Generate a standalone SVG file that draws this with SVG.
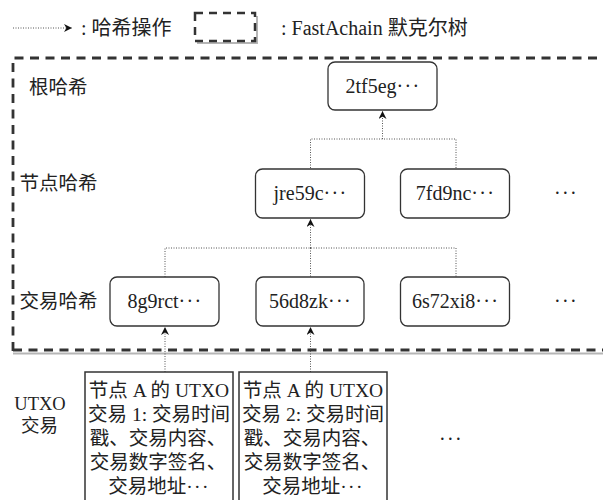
<svg xmlns="http://www.w3.org/2000/svg" width="603" height="500" viewBox="0 0 603 500">
<defs>
<style>
.t{font-family:"Liberation Serif","Noto Sans CJK SC",serif;fill:#222;}
.s18{font-size:18.5px;}
.s19{font-size:19.5px;}
.s20{font-size:20px;}
.m{text-anchor:middle;}
.el{letter-spacing:1.3px;}
.node rect{fill:#fff;stroke:#333;stroke-width:1.3;}
.utxo rect{fill:#fff;stroke:#333;stroke-width:1.5;}
.dot{fill:none;stroke:#555;stroke-width:1;stroke-dasharray:1 1.5;}
.dash{fill:none;stroke:#333;stroke-width:2.8;stroke-dasharray:9 6.5;}
.shadow{fill:none;stroke:#b5b5b5;stroke-width:2;}
</style>
<marker id="ah" markerUnits="userSpaceOnUse" viewBox="0 0 10 10" markerWidth="8" markerHeight="8" refX="10" refY="5" orient="auto">
<path d="M0,0 L10,5 L0,10 L3,5 z" fill="#111"/>
</marker>
</defs>
<rect width="603" height="500" fill="#fff"/>

<g id="legend">
<path class="dot" d="M13,28 H72" marker-end="url(#ah)"/>
<text class="t s20" x="81" y="35">: 哈希操作</text>
<path class="shadow" d="M197,43 H257 V16"/>
<rect x="195" y="13" width="60" height="28" class="dash" style="stroke-width:2.5;stroke-dasharray:8 6"/>
<text class="t s20" x="281" y="35">: FastAchain 默克尔树</text>
</g>

<g id="merkle-box">
<path class="shadow" d="M13,353.5 H603"/>
<path class="dash" d="M13,351 V58 H603"/>
<path class="dash" d="M13,350 H603"/>
</g>

<g id="level-labels">
<text class="t s19" x="29" y="94">根哈希</text>
<text class="t s19" x="19.5" y="190">节点哈希</text>
<text class="t s19" x="19.5" y="308">交易哈希</text>
<text class="t s18 m" x="40" y="410">UTXO</text>
<text class="t s18 m" x="39.5" y="432">交易</text>
</g>

<g id="connectors">
<path class="dot" d="M310.5,168 V139 H456 V168 M382.5,139 V111" marker-end="url(#ah)"/>
<path class="dot" d="M165,277 V248 H456 V277 M310.5,248 V277 M310.5,248 V219" marker-end="url(#ah)"/>
<path class="dot" d="M165,372 V327" marker-end="url(#ah)"/>
<path class="dot" d="M310.5,372 V327" marker-end="url(#ah)"/>
</g>

<g id="root" class="node">
<rect x="328" y="62" width="109" height="48" rx="7"/>
<text class="t s20 m" x="383" y="92.5">2tf5eg<tspan class="el">···</tspan></text>
</g>

<g id="node-jre59c" class="node">
<rect x="255.5" y="169" width="109" height="49" rx="7"/>
<text class="t s20 m" x="310.5" y="200">jre59c<tspan class="el">···</tspan></text>
</g>
<g id="node-7fd9nc" class="node">
<rect x="400.5" y="169" width="109" height="49" rx="7"/>
<text class="t s20 m" x="455.5" y="200">7fd9nc<tspan class="el">···</tspan></text>
</g>
<g id="node-more">
<text class="t s20 m el" x="566" y="200">···</text>
</g>

<g id="tx-8g9rct" class="node">
<rect x="110" y="277" width="109" height="49" rx="7"/>
<text class="t s20 m" x="165" y="308">8g9rct<tspan class="el">···</tspan></text>
</g>
<g id="tx-56d8zk" class="node">
<rect x="256" y="277" width="108" height="49" rx="7"/>
<text class="t s20 m" x="310.5" y="308">56d8zk<tspan class="el">···</tspan></text>
</g>
<g id="tx-6s72xi8" class="node">
<rect x="400.5" y="277" width="109" height="49" rx="7"/>
<text class="t s20 m" x="455.5" y="308">6s72xi8<tspan class="el">···</tspan></text>
</g>
<g id="tx-more">
<text class="t s20 m el" x="566" y="308">···</text>
</g>

<g id="utxo-1" class="utxo">
<rect x="85" y="372" width="148" height="140"/>
<text class="t s19 m" x="159" y="397">节点 A 的 UTXO</text>
<text class="t s19 m" x="159" y="421">交易 1: 交易时间</text>
<text class="t s19 m" x="158" y="445">戳、交易内容、</text>
<text class="t s19 m" x="158" y="469">交易数字签名、</text>
<text class="t s19 m" x="159" y="493">交易地址<tspan class="el">···</tspan></text>
</g>
<g id="utxo-2" class="utxo">
<rect x="239" y="372" width="148" height="140"/>
<text class="t s19 m" x="313" y="397">节点 A 的 UTXO</text>
<text class="t s19 m" x="313" y="421">交易 2: 交易时间</text>
<text class="t s19 m" x="312" y="445">戳、交易内容、</text>
<text class="t s19 m" x="312" y="469">交易数字签名、</text>
<text class="t s19 m" x="313" y="493">交易地址<tspan class="el">···</tspan></text>
</g>
<g id="utxo-more">
<text class="t s20 m el" x="451" y="446">···</text>
</g>
</svg>
